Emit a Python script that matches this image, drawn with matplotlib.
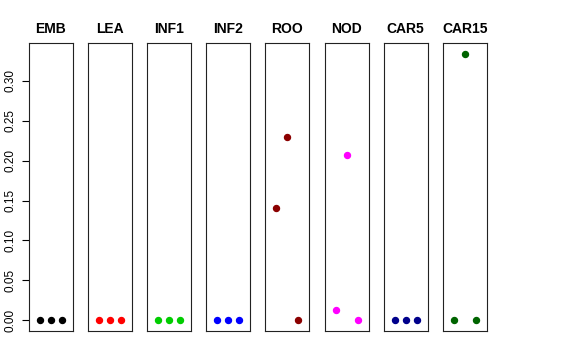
import matplotlib
matplotlib.use("Agg")
import matplotlib.pyplot as plt

plt.rcParams['font.family'] = ['Liberation Sans', 'DejaVu Sans']

panels = ['EMB', 'LEA', 'INF1', 'INF2', 'ROO', 'NOD', 'CAR5', 'CAR15']
colors = ['#000000', '#FF0000', '#00CD00', '#0000FF', '#8B0000', '#FF00FF', '#00008B', '#006400']
x = [1, 2, 3]
values = [
    [0.0, 0.0, 0.0],
    [0.0, 0.0, 0.0],
    [0.0, 0.0, 0.0],
    [0.0, 0.0, 0.0],
    [0.141, 0.229, 0.0],
    [0.0125, 0.2075, 0.0],
    [0.0, 0.0, 0.0],
    [0.0, 0.334, 0.0],
]
yticks = [0.00, 0.05, 0.10, 0.15, 0.20, 0.25, 0.30]

W, H = 576, 360
fig = plt.figure(figsize=(W / 100, H / 100), dpi=100)

ymax = max(max(v) for v in values)
pad = ymax * 0.04
for i, (name, col, vals) in enumerate(zip(panels, colors, values)):
    left = 29 + 59.1 * i
    ax = fig.add_axes([left / W, 1 - 331 / H, 44 / W, 288 / H])
    ax.plot(x, vals, 'o', color=col, markersize=4.3, linestyle='none')
    ax.set_xlim(0, 4)
    ax.set_ylim(-pad, ymax + pad)
    ax.set_xticks([])
    ax.set_title(name, fontsize=10, fontweight='bold', pad=7)
    for s in ax.spines.values():
        s.set_linewidth(0.8)
        s.set_color('#222222')
    if i == 0:
        ax.set_yticks(yticks)
        ax.set_yticklabels(['%.2f' % t for t in yticks], rotation=90, va='center', fontsize=8.5)
        ax.tick_params(axis='y', length=5, width=0.8, pad=4)
    else:
        ax.set_yticks([])

fig.savefig('out.png', dpi=100)
